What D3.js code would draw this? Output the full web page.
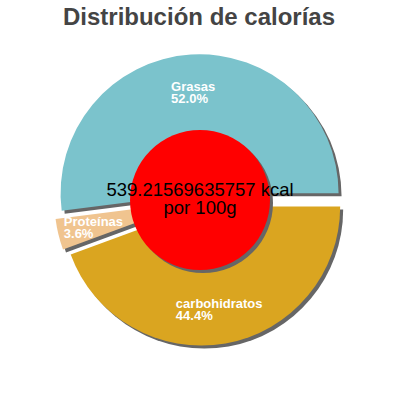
<!DOCTYPE html>
<html><head><meta charset="utf-8">
<script src="https://cdn.jsdelivr.net/npm/d3@7"></script>
<style>body{margin:0;background:#fff}svg{display:block}</style>
</head><body>
<script>
const categories = ["carbohidratos", "Proteínas", "Grasas"];
const values = [44.4, 3.6, 52.0];
const colors = ["#daa520", "#f0c48f", "#7bc3cc"];
const totalKcal = "539.21569635757 kcal";
const perLabel = "por 100g";
const title = "Distribución de calorías";

const W = 400, H = 400, cx = 200, cy = 200, R = 139, explode = 6.7;
const svg = d3.select("body").append("svg").attr("width", W).attr("height", H);

svg.append("text").attr("x", 199).attr("y", 25).attr("text-anchor", "middle")
  .attr("font-family", "Liberation Sans, Arial, sans-serif").attr("font-weight", "bold")
  .attr("font-size", 24).attr("fill", "#444").text(title);

const data = categories.map((c, i) => ({name: c, value: values[i], color: colors[i]}));
const pie = d3.pie().value(d => d.value).sort(null)
  .startAngle(Math.PI / 2).endAngle(Math.PI / 2 + 2 * Math.PI);
const arcs = pie(data);
const arc = d3.arc().innerRadius(0).outerRadius(R);

const g = svg.append("g").attr("transform", `translate(${cx},${cy})`);
function off(a) {
  const m = (a.startAngle + a.endAngle) / 2;
  return [explode * Math.sin(m), -explode * Math.cos(m)];
}
// shadows
g.selectAll("path.sh").data(arcs).enter().append("path")
  .attr("d", arc).attr("fill", "#666")
  .attr("transform", a => { const o = off(a); return `translate(${o[0] + 3},${o[1] + 3})`; });
g.selectAll("path.sl").data(arcs).enter().append("path")
  .attr("d", arc).attr("fill", a => a.data.color)
  .attr("transform", a => { const o = off(a); return `translate(${o[0]},${o[1]})`; });

// labels
const lr = 103;
arcs.forEach(a => {
  const o = off(a);
  const m = (a.startAngle + a.endAngle) / 2;
  const x = o[0] + lr * Math.sin(m), y = o[1] - lr * Math.cos(m);
  const t = g.append("text").attr("font-family", "Liberation Sans, Arial, sans-serif")
    .attr("font-weight", "bold").attr("font-size", 13).attr("fill", "#fff");
  const t1 = t.append("tspan").attr("y", y).text(a.data.name);
  const w = t1.node().getComputedTextLength();
  t1.attr("x", x - w / 2);
  t.append("tspan").attr("x", x - w / 2).attr("y", y + 12).text(a.data.value.toFixed(1) + "%");
});

// center circle
g.append("circle").attr("cx", 3).attr("cy", 3).attr("r", 70).attr("fill", "#666");
g.append("circle").attr("r", 70).attr("fill", "#ff0000");
g.append("text").attr("y", -4.5).attr("text-anchor", "middle")
  .attr("font-family", "Liberation Sans, Arial, sans-serif").attr("font-size", 18.5)
  .attr("fill", "#000").text(totalKcal);
g.append("text").attr("y", 13.5).attr("text-anchor", "middle")
  .attr("font-family", "Liberation Sans, Arial, sans-serif").attr("font-size", 18.5)
  .attr("fill", "#000").text(perLabel);
</script>
</body></html>
